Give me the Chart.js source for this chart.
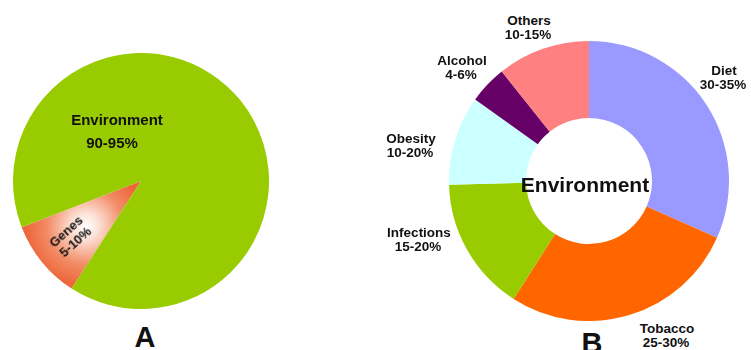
<!DOCTYPE html>
<html>
<head>
<meta charset="utf-8">
<script src="https://cdn.jsdelivr.net/npm/chart.js@4.4.1/dist/chart.umd.min.js"></script>
<style>
  html, body { margin: 0; padding: 0; background: #fff; }
  #page { position: relative; width: 751px; height: 350px; overflow: hidden; font-family: "Liberation Sans", Arial, sans-serif; }
  .box { position: absolute; }
  .lbl { position: absolute; font-weight: bold; color: #111; white-space: nowrap; line-height: 1; }
</style>
</head>
<body>
<div id="page">
  <div class="box" style="left:13px; top:53px; width:256px; height:256px;"><canvas id="pieA"></canvas></div>
  <div class="box" style="left:449px; top:41px; width:280px; height:280px;"><canvas id="ringB"></canvas></div>
</div>
<script>
// Panel A: genes vs environment (percent of pie)
const causeLabels = ["Genes", "Environment"];
const causeValues = [10, 90];
const causeText = ["5-10%", "90-95%"];

const factorLabels = ["Diet", "Tobacco", "Infections", "Obesity", "Alcohol", "Others"];
const factorValues = [31.6, 27.4, 15.5, 10.3, 4.4, 10.7];
const factorText = ["30-35%", "25-30%", "15-20%", "10-20%", "4-6%", "10-15%"];
const factorColors = ["#9999ff", "#ff6600", "#99cc00", "#ccffff", "#660066", "#ff8080"];

const pieRotation = 212.8;
const page = document.getElementById("page");

// put a text label with its baseline at y, centred on x
function addLabel(text, x, y, size) {
    const d = document.createElement("div");
    d.className = "lbl";
    d.textContent = text;
    d.style.fontSize = size + "px";
    d.style.left = x + "px";
    d.style.top = (y - 0.85 * size) + "px";
    d.style.transform = "translateX(-50%)";
    page.appendChild(d);
    return d;
}

// green for environment, white-centred orange for the genes slice
function pieFill(context) {
    if (context.dataIndex !== 0) return "#99cc00";
    const chart = context.chart;
    const area = chart.chartArea;
    if (!area) return "#ef6a40";
    const cx = (area.left + area.right) / 2;
    const cy = (area.top + area.bottom) / 2;
    const r = Math.min(area.right - area.left, area.bottom - area.top) / 2;
    const mid = (pieRotation - 90 + 18) * Math.PI / 180;
    const gx = cx + Math.cos(mid) * r * 0.56;
    const gy = cy + Math.sin(mid) * r * 0.56;
    const g = chart.ctx.createRadialGradient(gx, gy, 0, gx, gy, r * 0.46);
    g.addColorStop(0, "#ffffff");
    g.addColorStop(0.22, "#fde2d8");
    g.addColorStop(0.65, "#f28c66");
    g.addColorStop(1, "#ee673c");
    return g;
}

new Chart(document.getElementById("pieA"), {
    type: "pie",
    data: {
        labels: causeLabels,
        datasets: [{
            data: causeValues,
            backgroundColor: pieFill,
            borderWidth: 0,
            hoverOffset: 0
        }]
    },
    options: {
        responsive: true,
        maintainAspectRatio: false,
        animation: false,
        rotation: pieRotation,
        plugins: { legend: { display: false }, tooltip: { enabled: false } }
    }
});

new Chart(document.getElementById("ringB"), {
    type: "doughnut",
    data: {
        labels: factorLabels,
        datasets: [{
            data: factorValues,
            backgroundColor: factorColors,
            borderWidth: 0,
            hoverOffset: 0
        }]
    },
    options: {
        responsive: true,
        maintainAspectRatio: false,
        animation: false,
        cutout: "45%",
        plugins: { legend: { display: false }, tooltip: { enabled: false } }
    }
});

// panel A labels
addLabel(causeLabels[1], 117, 125, 15);
addLabel(causeText[1], 112, 148, 15);
const genes = document.createElement("div");
genes.className = "lbl";
genes.style.fontSize = "13px";
genes.style.textAlign = "center";
genes.style.lineHeight = "14px";
genes.style.left = "71px";
genes.style.top = "237px";
genes.style.transform = "translate(-50%, -50%) rotate(-42deg)";
genes.innerHTML = causeLabels[0] + "<br>" + causeText[0];
page.appendChild(genes);

// panel B labels
const spots = [[724, 75], [667, 333], [419, 237], [411, 143], [462, 65], [529, 25]];
factorLabels.forEach((name, i) => {
    addLabel(name, spots[i][0], spots[i][1], 13.5);
    addLabel(factorText[i], spots[i][0] - 1, spots[i][1] + 14, 13.5);
});
addLabel("Environment", 585, 192, 21);

// panel letters
addLabel("A", 145, 348, 29);
addLabel("B", 592, 354, 29);
</script>
</body>
</html>
